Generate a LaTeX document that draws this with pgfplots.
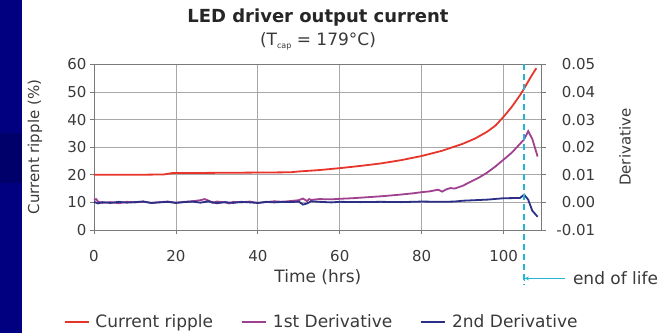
\documentclass[border=0pt]{standalone}
\usepackage{pgfplots}
\pgfplotsset{compat=1.18}
\usetikzlibrary{arrows.meta}
\usepackage{fontspec}
\setmainfont{DejaVu Sans}
\definecolor{ripple}{HTML}{E8352B}
\definecolor{deriv1}{HTML}{A0418F}
\definecolor{deriv2}{HTML}{2B2F86}
\definecolor{eol}{HTML}{25B4D6}
\definecolor{navyband}{HTML}{000080}
\definecolor{navydark}{HTML}{00006A}
\definecolor{txt}{HTML}{3A3A3A}
\definecolor{gridc}{HTML}{A8A8A8}
\definecolor{axc}{HTML}{7A7A7A}
\newcommand{\fs}{\fontsize{15}{17}\selectfont}
\newcommand{\fl}{\fontsize{17}{19}\selectfont}
\newcommand{\fy}{\fontsize{15}{17}\selectfont}
\begin{document}
\begin{tikzpicture}[x=1pt,y=1pt]
\path[use as bounding box] (0,0) rectangle (662,333);
\fill[white] (0,0) rectangle (662,333);
\fill[navyband] (0,0) rectangle (22,333);
\fill[navydark] (0,150) rectangle (22,200);
\node[font=\bfseries\fontsize{18}{20}\selectfont, text=black!85] at (318,315) {LED driver output current};
\node[font=\fl, text=txt] at (318,292) {(T{\raisebox{-3pt}{\fontsize{8}{9}\selectfont cap}} = 179°C)};
\begin{axis}[
  at={(94pt,103pt)}, anchor=south west, scale only axis,
  width=447.7pt, height=165.7pt,
  xmin=0, xmax=109.3, ymin=0, ymax=60,
  xtick={0,20,...,100}, ytick={0,10,...,60},
  xtick pos=bottom, ytick pos=left,
  grid=major, grid style={gridc, line width=0.7pt},
  axis line style={axc, line width=0.8pt},
  tick align=outside, tick style={axc, line width=0.7pt}, major tick length=4pt,
  ticklabel style={font=\fs, text=txt},
  xticklabel style={yshift=-13pt},
  /pgf/number format/assume math mode=true,
  xlabel={Time (hrs)}, ylabel={Current ripple (\%)},
  xlabel style={font=\fl, text=txt, at={(axis description cs:0.5,-0.285)}, anchor=center},
  ylabel style={font=\fy, text=txt, at={(axis description cs:-0.132,0.5)}, anchor=center},
]
\addplot[ripple, line width=1.8pt] coordinates {
(0,20.0) (10,20.0) (17,20.1) (19,20.6) (30,20.7) (40,20.8) (48,20.9) (50,21.2)
(55,21.7) (60,22.4) (65,23.2) (70,24.1) (75,25.3) (80,26.8) (85,28.7) (90,31.2)
(93,33.1) (96,35.6) (98,37.8) (100,41.0) (102,44.6) (104,48.8) (105,51.2)
(106,53.8) (107,56.3) (108,58.6)};
\end{axis}
\begin{axis}[
  at={(94pt,103pt)}, anchor=south west, scale only axis,
  width=447.7pt, height=165.7pt,
  xmin=0, xmax=109.3, ymin=-0.01, ymax=0.05,
  axis x line=none, axis y line*=right,
  ytick={-0.01,0,0.01,0.02,0.03,0.04,0.05},
  scaled y ticks=false,
  axis line style={axc, line width=0.8pt},
  tick align=outside, tick style={axc, line width=0.7pt}, major tick length=4pt,
  ticklabel style={font=\fs, text=txt},
  yticklabel style={/pgf/number format/fixed, /pgf/number format/fixed zerofill,
    /pgf/number format/precision=2, text width=46pt, align=right},
  /pgf/number format/assume math mode=true,
  ylabel={Derivative},
  ylabel style={font=\fy, text=txt, at={(axis description cs:1.186,0.5)}, anchor=center},
  clip=false,
  legend columns=3,
  legend style={at={(-0.075,-0.555)}, anchor=west, draw=none, fill=none,
    font=\fl, text=txt, /tikz/every even column/.append style={column sep=26pt}},
  legend image code/.code={\draw[#1] (0pt,0pt) -- (24pt,0pt); \path (28pt,0pt);},
]
\addlegendimage{ripple, line width=1.8pt}
\addlegendentry{Current ripple}
\addplot[deriv1, line width=1.8pt] coordinates {
(0,0.0008) (0.5,0.0012) (1,0.0003) (2,-0.0002) (4,0.0001) (6,-0.0003) (8,0.0002)
(10,0.0000) (12,0.0003) (14,-0.0002) (16,0.0001) (18,0.0003) (20,-0.0001)
(22,0.0002) (24,0.0004) (26,0.0008) (27,0.0012) (28,0.0006) (29,-0.0002)
(30,0.0003) (32,0.0000) (33,-0.0004) (34,0.0002) (36,0.0000) (38,0.0003)
(40,-0.0002) (42,0.0001) (44,0.0004) (46,0.0002) (48,0.0005) (50,0.0008)
(51,0.0014) (52,0.0005) (52.5,0.0012) (53,0.0009) (55,0.0012) (58,0.0011)
(60,0.0013) (63,0.0015) (66,0.0018) (70,0.0022) (74,0.0027) (78,0.0033)
(80,0.0037) (82,0.0040) (84,0.0046) (85,0.0039) (86,0.0047) (87,0.0052)
(88,0.0050) (90,0.0060) (92,0.0075) (94,0.0090) (96,0.0108) (98,0.0130)
(100,0.0155) (102,0.0180) (104,0.0212) (105,0.0228) (106,0.0258) (107,0.0230)
(108.3,0.0166)};
\addlegendentry{1st Derivative}
\addplot[deriv2, line width=1.8pt] coordinates {
(0,0.0002) (1,-0.0004) (2,0.0001) (4,-0.0002) (6,0.0002) (8,-0.0001) (10,0.0001)
(12,0.0003) (14,-0.0002) (16,0.0000) (18,0.0002) (20,-0.0002) (22,0.0001)
(24,0.0003) (26,-0.0001) (28,0.0004) (30,-0.0003) (32,0.0001) (34,-0.0002)
(36,0.0002) (38,0.0000) (40,-0.0002) (42,0.0002) (44,0.0000) (46,0.0002)
(48,0.0001) (50,0.0003) (51,-0.0008) (52,-0.0004) (53,0.0004) (55,0.0002)
(58,0.0000) (60,0.0002) (65,0.0001) (70,0.0002) (75,0.0001) (80,0.0003)
(85,0.0002) (88,0.0003) (90,0.0006) (93,0.0008) (96,0.0010) (100,0.0015)
(104,0.0016) (105,0.0028) (106,0.0010) (107,-0.0030) (108.3,-0.0052)};
\addlegendentry{2nd Derivative}
\draw[eol, line width=2.2pt, dash pattern=on 6pt off 4pt] (axis cs:105,0.05) -- (axis cs:105,-0.0300);
\draw[eol, line width=0.8pt, {Bar[width=5pt]Stealth[length=4pt,width=4pt]}-] (axis cs:105,-0.0275) -- (axis cs:115.0,-0.0275);
\node[anchor=west, font=\fl, text=txt, inner sep=0pt] at (axis cs:116.9,-0.0275) {end of life};
\end{axis}
\end{tikzpicture}
\end{document}
